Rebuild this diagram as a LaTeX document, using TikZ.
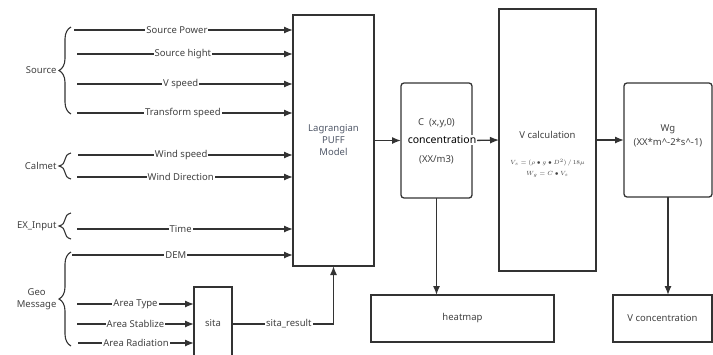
\documentclass[tikz,border=0pt]{standalone}
\usepackage{fontspec}
\setmainfont{Noto Sans}
\usetikzlibrary{arrows.meta,decorations.pathreplacing}
\definecolor{linegray}{HTML}{333333}
\definecolor{txtgray}{HTML}{404040}
\definecolor{puffgray}{HTML}{505868}
\begin{document}
\begin{tikzpicture}[x=1pt,y=-1pt,>={Latex[length=9pt,width=7pt]},line width=1.3pt,
  color=linegray,text=txtgray,font=\fontsize{9.5}{11}\selectfont,
  box/.style={draw=linegray,inner sep=0pt,outer sep=0pt},
  rbox/.style={box,rounded corners=3pt},
  lab/.style={fill=white,inner sep=1pt},
  grp/.style={decorate,decoration={brace,amplitude=12pt}},
]
\clip (0,0) rectangle (713,354);
%% main boxes
\node[box,minimum width=81pt,minimum height=251pt,align=center,text=puffgray,font=\fontsize{9.5}{12}\selectfont] (puff) at (333.5,140.5) {Lagrangian\\PUFF\\Model};
\node[rbox,minimum width=71pt,minimum height=115pt] (conc) at (436.5,140.5) {};
\node (conc_c) at (436.5,123) {C\ \ (x,y,0)};
\node (conc_u) at (436.5,160) {(XX/m3)};
\node[box,minimum width=97pt,minimum height=262pt] (vcalc) at (547.5,140) {};
\node (vcalc_t) at (547.5,135) {V calculation};
\node[font=\fontsize{6.5}{11}\selectfont,align=center] (vcalc_f) at (547.5,168.5) {$V_s=(\rho\bullet g\bullet D^2)\,/\,18\mu$\\$W_g=C\bullet V_s$};
\node[rbox,minimum width=88pt,minimum height=114pt] (wg) at (668,140) {};
\node[align=center,font=\fontsize{9.5}{14}\selectfont] (wg_t) at (668,135.5) {Wg\\(XX*m\textasciicircum-2*s\textasciicircum-1)};
\node[box,minimum width=183pt,minimum height=47pt] (heat) at (462.5,318.5) {heatmap};
\node[box,minimum width=99pt,minimum height=47pt] (vconc) at (662.5,318.5) {V concentration};
\node[box,minimum width=38pt,minimum height=90pt] (sita) at (213,332) {};
\node (sita_t) at (213,323) {sita};
%% inputs
\coordinate (in_sp) at (74,30);
\coordinate (in_sh) at (77,54);
\coordinate (in_vs) at (77,84);
\coordinate (in_ts) at (77,113);
\coordinate (in_ws) at (78,155);
\coordinate (in_wd) at (77,177);
\coordinate (in_ti) at (77,229);
\coordinate (in_de) at (72,255);
\coordinate (in_at) at (77,304);
\coordinate (in_as) at (77,324);
\coordinate (in_ar) at (78,343);
\draw[->] (in_sp) -- (in_sp -| puff.west) node[lab,pos=0.47] (l_sp) {Source Power};
\draw[->] (in_sh) -- (in_sh -| puff.west) node[lab,pos=0.49] (l_sh) {Source hight};
\draw[->] (in_vs) -- (in_vs -| puff.west) node[lab,pos=0.48] (l_vs) {V speed};
\draw[->] (in_ts) -- (in_ts -| puff.west) node[lab,pos=0.49] (l_ts) {Transform speed};
\draw[->] (in_ws) -- (in_ws -| puff.west) node[lab,pos=0.48] (l_ws) {Wind speed};
\draw[->] (in_wd) -- (in_wd -| puff.west) node[lab,pos=0.48] (l_wd) {Wind Direction};
\draw[->] (in_ti) -- (in_ti -| puff.west) node[lab,pos=0.48] (l_ti) {Time};
\draw[->] (in_de) -- (in_de -| puff.west) node[lab,pos=0.47] (l_de) {DEM};
\draw[->] (in_at) -- (in_at -| sita.west) node[lab,midway] (l_at) {Area Type};
\draw[->] (in_as) -- (in_as -| sita.west) node[lab,midway] (l_as) {Area Stablize};
\draw[->] (in_ar) -- (in_ar -| sita.west) node[lab,midway] (l_ar) {Area Radiation};
%% groups
\draw[grp,line width=1.1pt] (71,114) -- (71,27) node[midway,left=13pt,inner sep=1pt] (g_src) {Source};
\draw[grp,line width=1.1pt] (71,179) -- (71,153) node[midway,left=13pt,inner sep=1pt] (g_cal) {Calmet};
\draw[grp,line width=1.1pt] (71,239) -- (71,213) node[midway,left=13pt,inner sep=1pt] (g_ex) {EX\_Input};
\draw[grp,line width=1.1pt] (71,346) -- (71,252) node[midway,left=13pt,inner sep=1pt,align=center,font=\fontsize{9.5}{12}\selectfont] (g_geo) {Geo\\Message};
%% flow
\draw[->] (sita.east |- in_as) -| (puff.south) node[lab,pos=0.28] (l_sr) {sita\_result};
\draw[->] (puff.east) -- (conc.west);
\draw[->] (conc.east) -- (vcalc.west);
\draw[->] (vcalc.east) -- (wg.west);
\draw[->] (conc.south) -- (conc.south |- heat.north);
\draw[->] (wg.south) -- (wg.south |- vconc.north);
\node[fill=white,inner sep=1pt,text=black,font=\fontsize{10.5}{12}\selectfont] (conc_t) at (442,140) {concentration};
%
\end{tikzpicture}
\end{document}
